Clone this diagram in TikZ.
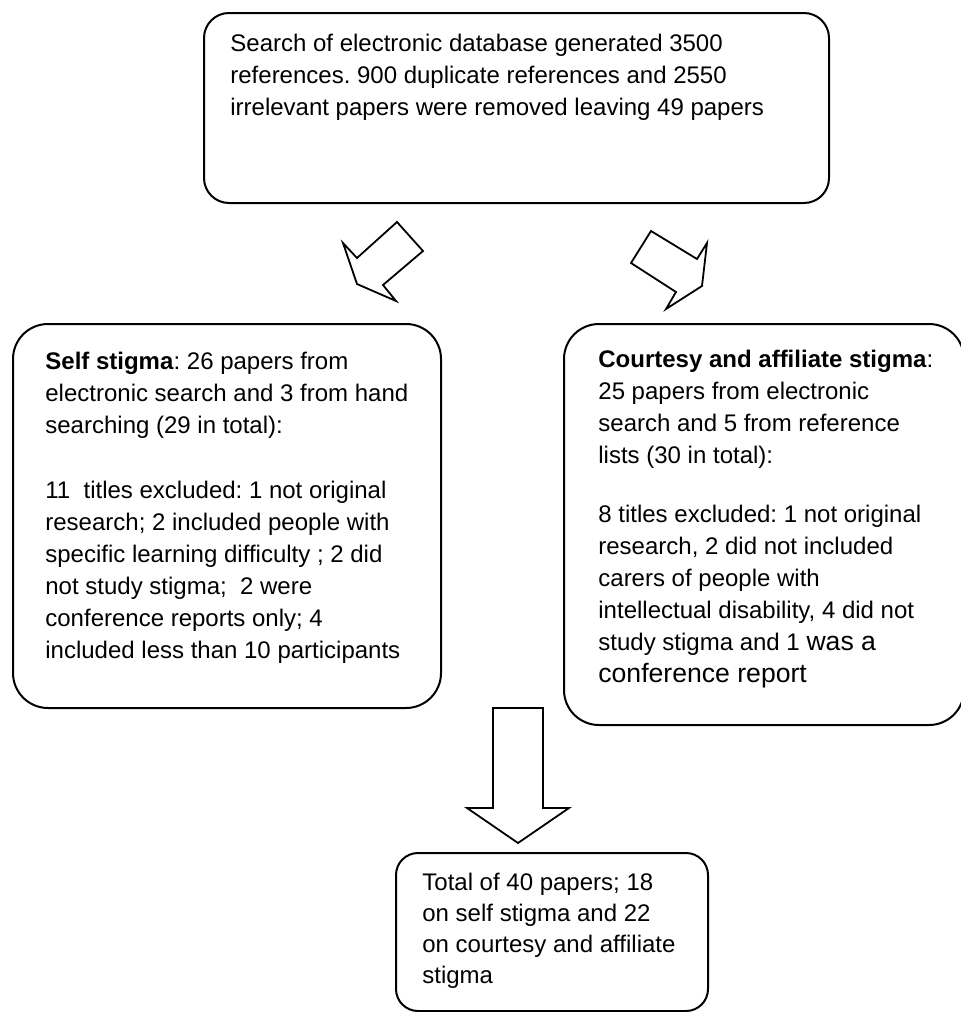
\documentclass[tikz,border=0pt]{standalone}
\usepackage{fontspec}
\setmainfont{Liberation Sans}
\usetikzlibrary{positioning}
\frenchspacing
\tikzset{
  panel/.style={draw, line width=1pt, rounded corners=#1, inner sep=0pt, anchor=north west},
  panel/.default=17.5pt,
  blurb/.style={anchor=base west, inner sep=0pt, align=left, font=\fontsize{12pt}{16pt}\selectfont},
  blockarrow/.style={draw, line width=0.9pt, line join=miter}
}
\newcommand{\bigbit}[1]{{\fontsize{13.3pt}{16pt}\selectfont #1}}

\begin{document}
\begin{tikzpicture}[x=0.5pt, y=-0.5pt]
\useasboundingbox (0,0) rectangle (960,1012);
\node[panel=12.5pt, minimum width=312.5pt, minimum height=95pt] (search) at (203,12) {};
\node[panel, minimum width=214pt, minimum height=192pt] (self) at (12,323) {};
\node[panel, minimum width=200pt, minimum height=200.5pt] (courtesy) at (563,323) {};
\node[panel=11pt, minimum width=156pt, minimum height=79pt] (total) at (395,852) {};
% base of a multi-line blurb = baseline of its last line
\node[blurb] (searchtxt) at (230,115) {Search of electronic database generated 3500\\
references. 900 duplicate references and 2550\\
irrelevant papers were removed leaving 49 papers};
\node[blurb] (selftxt) at (45,658) {\textbf{Self stigma}: 26 papers from\\
electronic search and 3 from hand\\
searching (29 in total):\\[16.5pt]
11\ \ titles excluded: 1 not original\\
research; 2 included people with\\
specific learning difficulty ; 2 did\\
not study stigma;\ \ 2 were\\
conference reports only; 4\\
included less than 10 participants};
\node[blurb] (courtesytxt) at (598,682) {\textbf{Courtesy and affiliate stigma}:\\
25 papers from electronic\\
search and 5 from reference\\
lists (30 in total):\\[13.5pt]
8 titles excluded: 1 not original\\
research, 2 did not included\\
carers of people with\\
intellectual disability, 4 did not\\
study stigma and 1 \bigbit{was a}\\
\bigbit{conference report}};
\node[blurb, font=\fontsize{12pt}{15.5pt}\selectfont] (totaltxt) at (422,983) {Total of 40 papers; 18\\
on self stigma and 22\\
on courtesy and affiliate\\
stigma};
\draw[blockarrow] (357,258) -- (397,222) -- (423,251) -- (383,285) -- (396,301) -- (357,284) -- (343,243) -- cycle;
\draw[blockarrow] (631,263) -- (651,231) -- (697,259) -- (707,243) -- (702,286) -- (666,309) -- (676,292) -- cycle;
\draw[blockarrow] (493,708) -- (543,708) -- (543,808) -- (569,808) -- (518,843) -- (467,808) -- (493,808) -- cycle;
\end{tikzpicture}
\end{document}
